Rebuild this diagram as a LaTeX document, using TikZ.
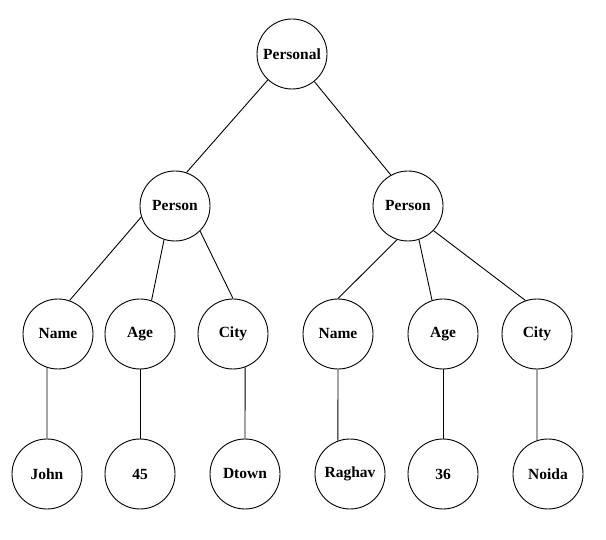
\documentclass[tikz,border=0pt]{standalone}
\usepackage{fontspec}
\setmainfont{Liberation Serif}
\begin{document}
\begin{tikzpicture}[x = 1pt, y = -1pt,
    field/.style = {draw, circle, line width = 0.9pt, minimum size = 70pt, inner sep = 0pt,
                    font = \fontsize{15.5}{18}\selectfont\bfseries}]
    \useasboundingbox (0,0) rectangle (606,540);
    % Root
    \node[field] (personal) at (292,54) {Personal};
    % Two records
    \node[field] (personL) at (175,206) {Person};
    \node[field] (personR) at (408,206) {Person};
    % Keys
    \node[field] (nameL) at (58,334) {Name};
    \node[field] (ageL) at (140,334) {Age};
    \node[field] (cityL) at (233,334) {City};
    \node[field] (nameR) at (338,334) {Name};
    \node[field] (ageR) at (443,334) {Age};
    \node[field] (cityR) at (537,334) {City};
    % Values
    \node[field] (john) at (47,474) {John};
    \node[field] (ageLv) at (140,474) {45};
    \node[field] (dtown) at (245,474) {Dtown};
    \node[field] (raghav) at (350,474) {Raghav};
    \node[field] (ageRv) at (443,474) {36};
    \node[field] (noida) at (548,474) {Noida};

    % Draw the edges
    \draw [line width = 0.9pt] (personal.227) -- (personL.71);
    \draw [line width = 0.9pt] (personal.309) -- (personR.119);

    \draw [line width = 0.9pt] (personL.198) -- (nameL.71);
    \draw [line width = 0.9pt] (personL.252) -- (ageL.71);
    \draw [line width = 0.9pt] (personL.315) -- (cityL.north);
    \draw [line width = 0.9pt] (personR.252) -- (nameR.north);
    \draw [line width = 0.9pt] (personR.288) -- (ageR.108);
    \draw [line width = 0.9pt] (personR.316) -- (cityR.109);

    \draw [line width = 0.9pt] (nameL.252) -- (john.north);
    \draw [line width = 0.9pt] (ageL.south) -- (ageLv.north);
    \draw [line width = 0.9pt] (cityL.290) -- (dtown.north);
    \draw [line width = 0.9pt] (nameR.south) -- (raghav.110);
    \draw [line width = 0.9pt] (ageR.south) -- (ageRv.north);
    \draw [line width = 0.9pt] (cityR.south) -- (noida.108);
\end{tikzpicture}
\end{document}
